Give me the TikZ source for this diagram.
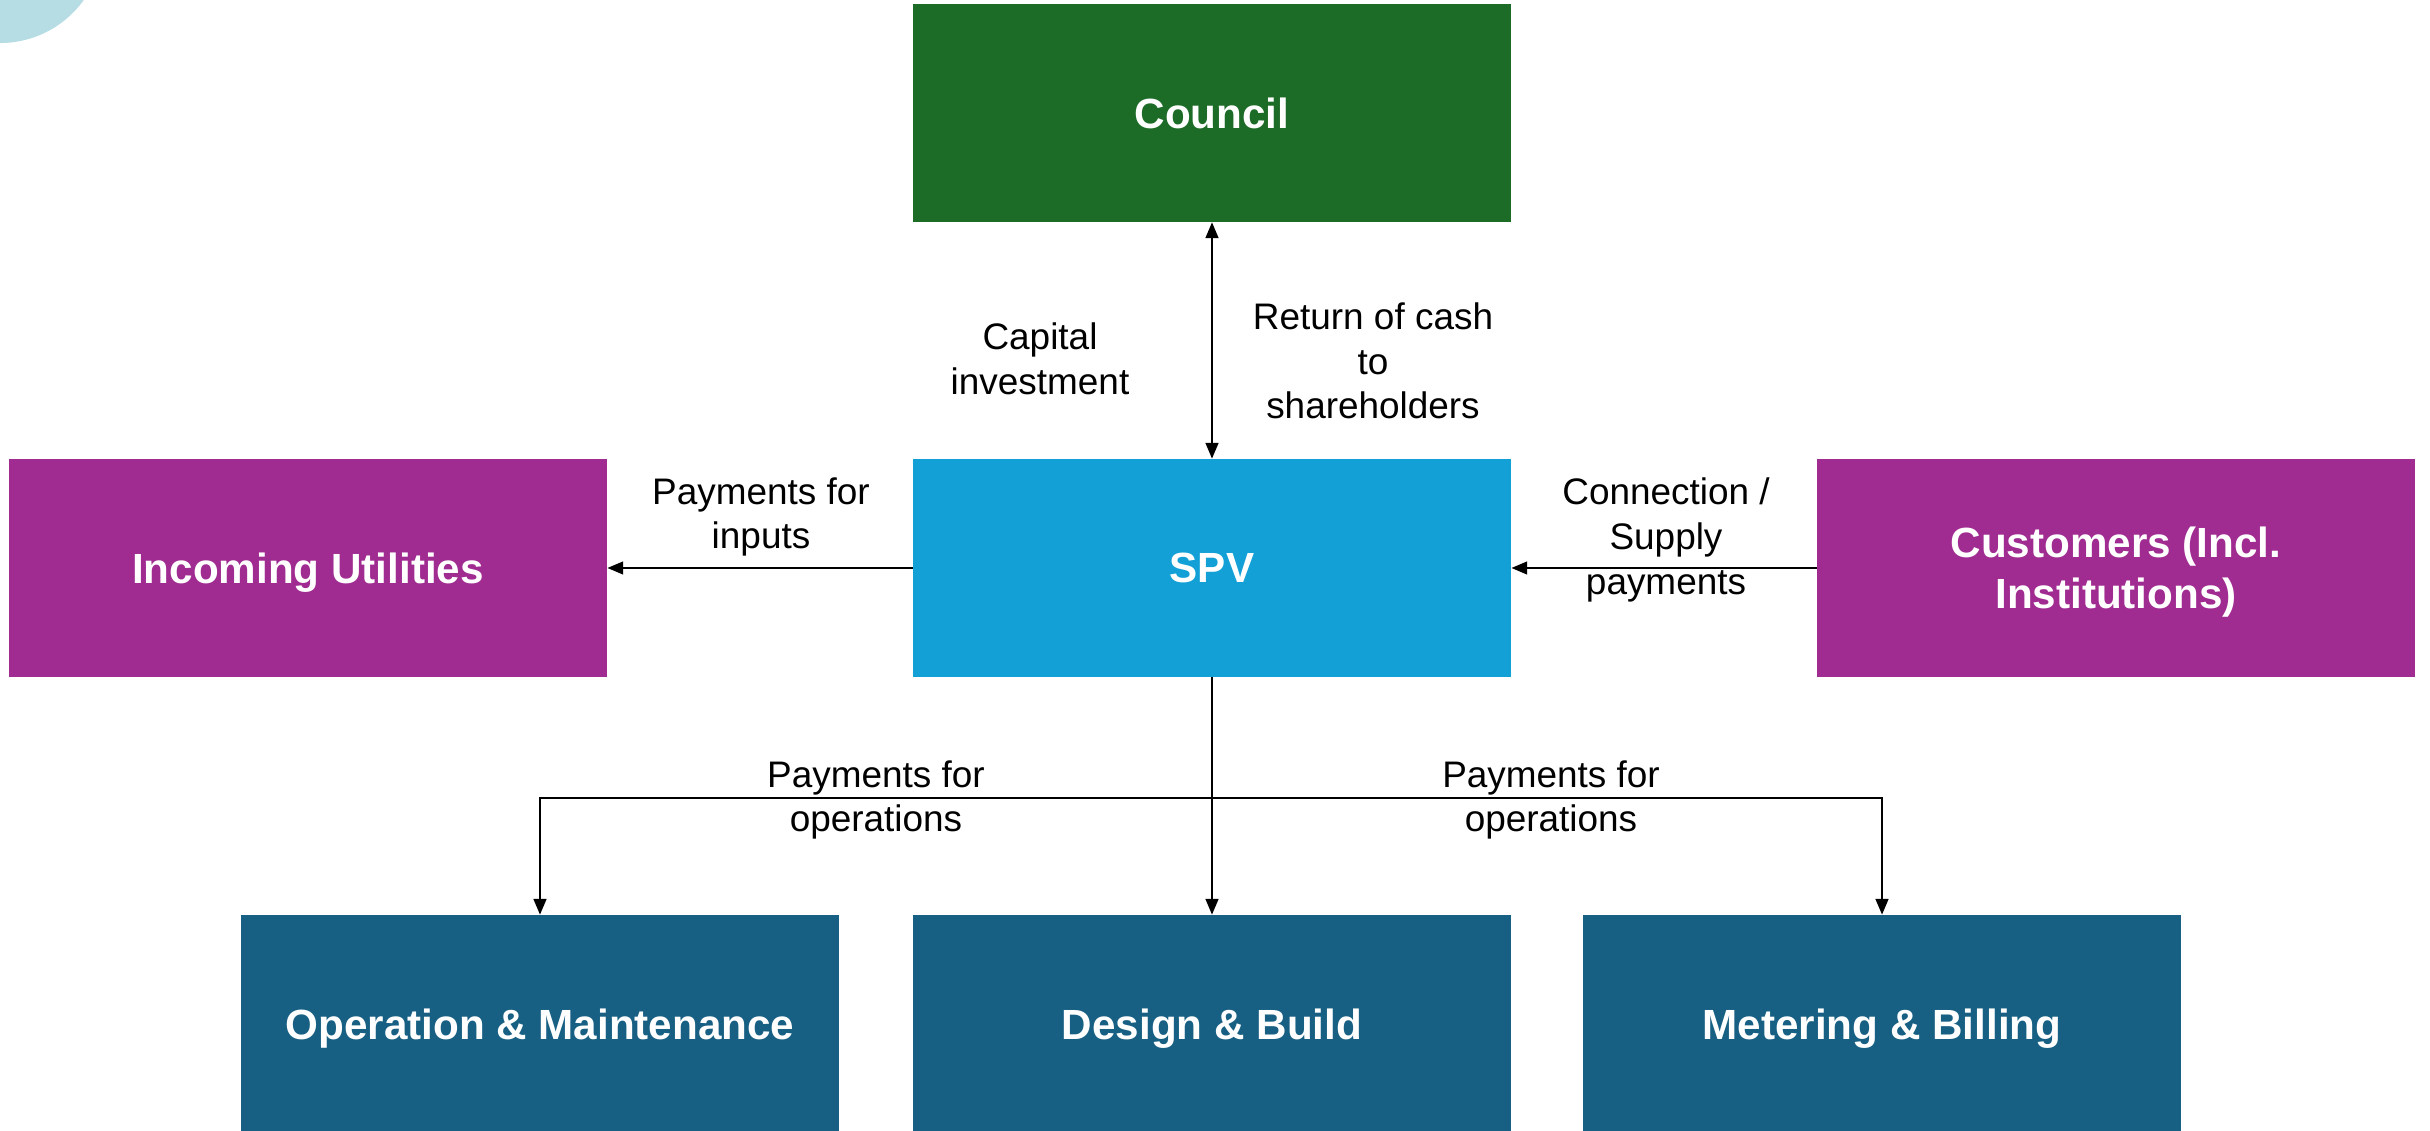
\documentclass[tikz,border=0pt]{standalone}
\usepackage{fontspec}
\setmainfont{Liberation Sans}
\usetikzlibrary{arrows.meta}
\usetikzlibrary{calc}

\begin{document}
\begin{tikzpicture}[x=0.01cm,y=-0.01cm,
    box/.style={
      draw=none,
      text=white,
      font=\fontsize{12}{14.5}\selectfont\bfseries,
      align=center,
      inner sep=0pt,
      text depth=0pt,
      minimum width=5.97cm,
      minimum height=2.17cm
    },
    lbl/.style={draw=none,font=\fontsize{10.5}{12.7}\selectfont,align=center},
    flow/.style={-{Triangle[length=4.5pt,width=3.6pt]},line width=0.7pt}]

\definecolor{lcyan}{RGB}{182,220,228}
\definecolor{dgreen}{RGB}{28,107,38}
\definecolor{sblue}{RGB}{18,160,215}
\definecolor{mpurple}{RGB}{160,43,145}
\definecolor{dteal}{RGB}{23,96,131}

\useasboundingbox (0,0) rectangle (2430,1131);
\begin{scope}
\clip (0,0) rectangle (2430,1131);
\fill[lcyan] (0,-60) circle [radius=1.03cm];
\end{scope}

\node[box,fill=dgreen] (co) at (1212,113) {Council};
\node[box,fill=sblue] (spv) at (1212,568) {SPV};
\node[box,fill=mpurple] (iu) at (308,568) {Incoming Utilities};
\node[box,fill=mpurple] (cu) at (2116,568) {Customers (Incl.\\Institutions)};
\node[box,fill=dteal] (om) at (540,1024) {Operation \& Maintenance};
\node[box,fill=dteal] (db) at (1212,1024) {Design \& Build};
\node[box,fill=dteal] (mb) at (1882,1024) {Metering \& Billing};

\coordinate (bus) at (1212,798);

\draw[flow,{Triangle[length=4.5pt,width=3.6pt]}-{Triangle[length=4.5pt,width=3.6pt]}] (co) -- (spv);
\draw[flow] (spv) -- (iu);
\draw[flow] (cu) -- (spv);
\draw[flow] (spv) -- (db);
\draw[flow] (spv) -- (bus) -| (om);
\draw[flow] (bus) -| (mb);

\node[lbl] (ci) at (1040,359) {Capital\\investment};
\node[lbl] (rc) at (1373,361) {Return of cash\\to\\shareholders};
\node[lbl] (pi) at (761,517) {Payments for\\inputs};
\node[lbl] (cs) at (1666,540) {Connection /\\Supply\\payments};
\node[lbl] (pl) at (876,800) {Payments for\\operations};
\node[lbl] (pr) at (1551,800) {Payments for\\operations};

\end{tikzpicture}
\end{document}
